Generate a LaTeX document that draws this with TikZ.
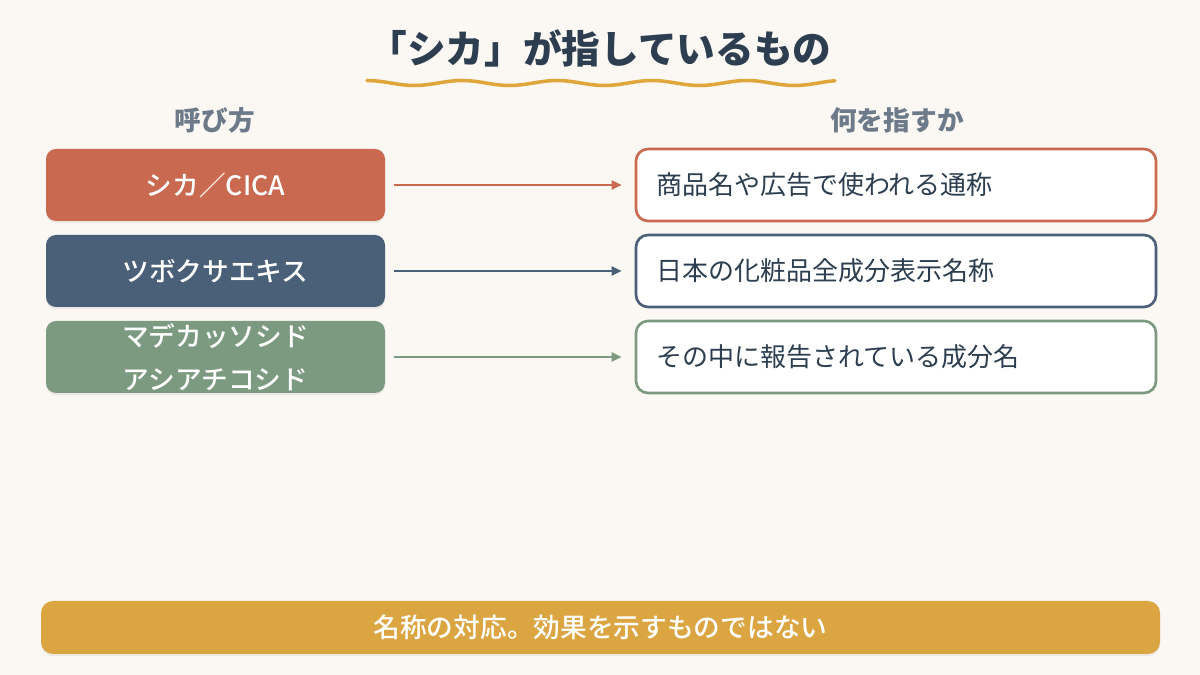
\documentclass[tikz,border=0pt]{standalone}
\usepackage{fontspec}
\setmainfont{Noto Sans CJK JP}
\newfontfamily\jpmed{Noto Sans CJK JP Medium}
\usetikzlibrary{arrows.meta,shadows}
\definecolor{bg}{HTML}{FBF7F3}
\definecolor{ink}{HTML}{2C3E50}
\definecolor{headc}{HTML}{6C7A89}
\definecolor{cica}{HTML}{C96A50}
\definecolor{navy}{HTML}{4A5F78}
\definecolor{sage}{HTML}{7B9A80}
\definecolor{gold}{HTML}{DBA542}
\definecolor{wave}{HTML}{E0A63C}
\begin{document}
\begin{tikzpicture}[
  namebox/.style={rounded corners=0.1cm, minimum width=3.39cm, minimum height=0.72cm, inner sep=0pt, text=white, align=center, font=\jpmed\fontsize{7.6pt}{12.2pt}\selectfont, drop shadow={opacity=0.12, shadow xshift=0pt, shadow yshift=-0.6pt}},
  meanbox/.style={draw, line width=0.75pt, fill=white, rounded corners=0.12cm, minimum height=0.72cm, text width=4.8cm, inner xsep=0.2cm, inner ysep=0pt, align=left, text=ink, font=\fontsize{7.4pt}{9pt}\selectfont},
  head/.style={text=headc, font=\bfseries\fontsize{7.6pt}{9pt}\selectfont},
  link/.style={line width=0.6pt, -{Triangle[length=1mm,width=0.9mm]}, shorten <=0.08cm, shorten >=0.13cm}
]
\useasboundingbox (0,0) rectangle (12,6.75);
\fill[bg] (0,0) rectangle (12,6.75);
\node[text=ink, font=\bfseries\fontsize{11pt}{13pt}\selectfont] (title) at (6,6.27) {「シカ」が指しているもの};
\draw[wave, line width=1pt, line cap=round] plot[domain=3.67:8.35, samples=120, smooth] (\x,{5.92+0.025*cos(360*(\x-3.67)/0.95)});
\node[head] (yobi) at (2.15,5.55) {呼び方};
\node[head] (sasu) at (8.97,5.55) {何を指すか};
\node[namebox, fill=cica] (cicabox) at (2.155,4.90) {シカ／CICA};
\node[namebox, fill=navy] (tsubo) at (2.155,4.04) {ツボクサエキス};
\node[namebox, fill=sage] (madeca) at (2.155,3.18) {マデカッソシド\\アシアチコシド};
\node[meanbox, draw=cica] (brand) at (8.96,4.90) {商品名や広告で使われる通称};
\node[meanbox, draw=navy] (inci) at (8.96,4.04) {日本の化粧品全成分表示名称};
\node[meanbox, draw=sage] (comp) at (8.96,3.18) {その中に報告されている成分名};
\draw[link, cica] (cicabox) -- (brand);
\draw[link, navy] (tsubo) -- (inci);
\draw[link, sage] (madeca) -- (comp);
\node[fill=gold, rounded corners=0.12cm, minimum width=11.19cm, minimum height=0.53cm, inner sep=0pt, text=white, font=\jpmed\fontsize{7.6pt}{9pt}\selectfont, drop shadow={opacity=0.12, shadow xshift=0pt, shadow yshift=-0.6pt}] (note) at (6.005,0.475) {名称の対応。効果を示すものではない};
\end{tikzpicture}
\end{document}
